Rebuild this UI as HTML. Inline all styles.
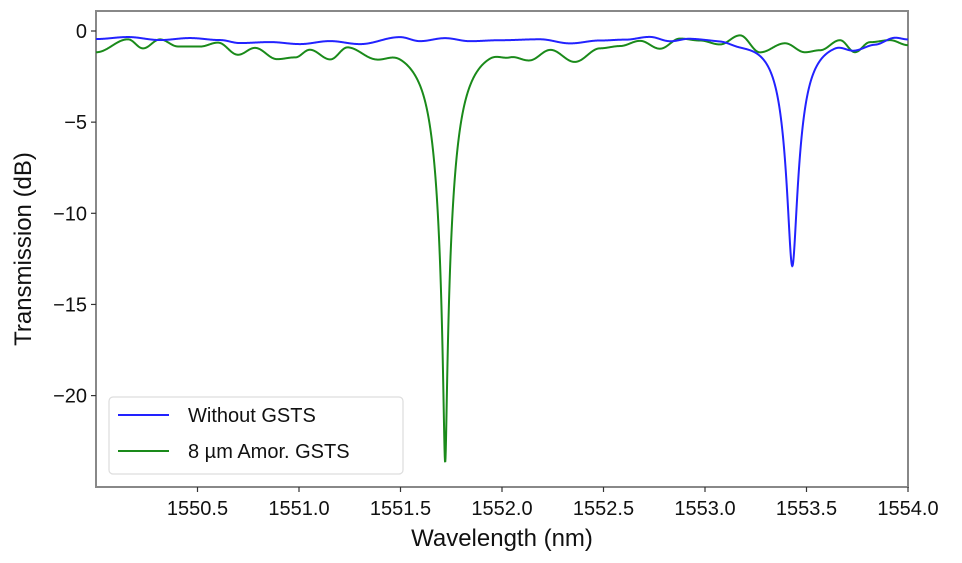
<!DOCTYPE html>
<html><head><style>
body{margin:0;background:#fff;}
svg{display:block;font-family:"Liberation Sans",sans-serif;}
</style></head><body>
<svg id="s" width="962" height="563" xmlns="http://www.w3.org/2000/svg">
<rect x="96" y="11" width="812" height="476" fill="none" stroke="#888" stroke-width="2"/>
<g id="ticks" stroke="#333" stroke-width="1.2"></g>
<g font-size="20" fill="#111" text-anchor="end" id="yl"></g>
<g font-size="20" fill="#111" text-anchor="middle" id="xl"></g>
<path id="g" fill="none" stroke="#1a8a1a" stroke-width="2"/>
<path id="b" fill="none" stroke="#2222ff" stroke-width="2"/>
<text x="502" y="546" font-size="24" text-anchor="middle" fill="#111">Wavelength (nm)</text>
<text transform="translate(31,249) rotate(-90)" font-size="24" text-anchor="middle" fill="#111">Transmission (dB)</text>
<rect x="109" y="397" width="294" height="77" rx="4" fill="#fff" stroke="#ddd" stroke-width="1.2"/>
<line x1="118" y1="415" x2="169" y2="415" stroke="#2222ff" stroke-width="2"/>
<line x1="118" y1="451" x2="169" y2="451" stroke="#1a8a1a" stroke-width="2"/>
<text x="188" y="422" font-size="20" fill="#111">Without GSTS</text>
<text x="188" y="458" font-size="20" fill="#111">8 µm Amor. GSTS</text>
</svg>
<script>
var X=w=>96+(w-1550)*203,Y0=31,S=18.23;
var tk=document.getElementById('ticks'),yl=document.getElementById('yl'),xl=document.getElementById('xl'),ns='http://www.w3.org/2000/svg';
function el(p,t,a,txt){var e=document.createElementNS(ns,t);for(var k in a)e.setAttribute(k,a[k]);if(txt)e.textContent=txt;p.appendChild(e);}
[0,-5,-10,-15,-20].forEach(v=>{var y=Y0-v*S;el(tk,'line',{x1:91,x2:96,y1:y,y2:y});el(yl,'text',{x:87,y:y+7},v==0?'0':'\u2212'+(-v));});
[1550.5,1551,1551.5,1552,1552.5,1553,1553.5,1554].forEach(v=>{var x=X(v);el(tk,'line',{x1:x,x2:x,y1:487,y2:492});el(xl,'text',{x:x,y:515},v.toFixed(1));});
function interp(pts,x){for(var i=0;i<pts.length-1;i++){if(x<=pts[i+1][0]){var a=pts[i],b=pts[i+1],t=(x-a[0])/(b[0]-a[0]);t=(1-Math.cos(Math.PI*t))/2;return a[1]+(b[1]-a[1])*t;}}return pts[pts.length-1][1];}
var gb=[[96,52],[128,39],[143,48],[160,39],[178,46],[200,46],[218,42],[238,54],[255,47],[277,58],[295,56],[310,48],[330,57],[348,44],[375,53],[400,45],[420,46],[460,46],[490,44],[510,50],[530,56],[550,47],[575,60],[600,47],[620,45],[640,40],[660,48],[680,38],[700,40],[720,44],[740,35],[760,52],[785,43],[805,52],[820,50],[840,40],[855,52],[870,42],[890,40],[908,45]];
var bb=[[96,39],[128,37],[160,40],[190,38],[220,40],[240,43],[270,42],[300,44],[330,41],[360,44],[400,37],[420,41],[445,38],[470,41],[500,40],[540,39],[570,43],[600,40],[625,39],[650,36],[670,40],[690,37],[720,38],[740,41],[760,40],[793,42],[835,39],[855,46],[875,42],[895,36],[908,38]];
function path(base,x0,D,w){var d='';for(var px=96;px<=908;px+=0.25){var wl=1550+(px-96)/203,u=(wl-x0)/w;var T=1-D/(1+u*u);var y=interp(base,px)-S*10*Math.log10(T);d+=(d?'L':'M')+px.toFixed(2)+','+y.toFixed(2);}return d;}
document.getElementById('g').setAttribute('d',path(gb,1551.72,0.9948,0.1));
document.getElementById('b').setAttribute('d',path(bb,1553.43,0.941,0.078));
</script>
</body></html>
